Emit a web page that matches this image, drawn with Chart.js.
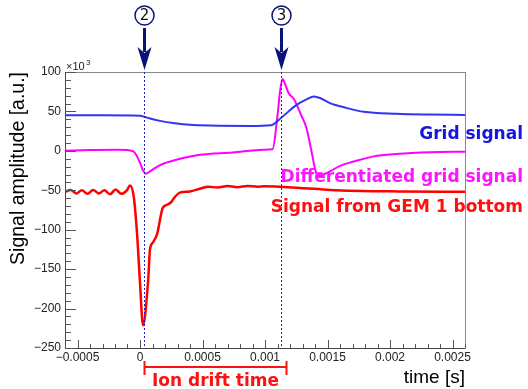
<!DOCTYPE html>
<html lang="en">
<head>
    <meta charset="UTF-8">
    <title>Grid signal and GEM signal</title>
    <script src="https://cdn.jsdelivr.net/npm/chart.js"></script>
    <style>
        body {
            margin: 0;
            background-color: white;
        }
        #wrap {
            width: 528px;
            height: 389px;
        }
    </style>
</head>
<body>
    <div id="wrap"><canvas id="signalChart" width="528" height="389"></canvas></div>
    <script>
        // values in units of 10^3, time in seconds
        const gridTime = [-0.0006, -0.0003, 0, 0.00003, 0.00008, 0.00016, 0.00028, 0.0004, 0.00056, 0.00088, 0.00105,
            0.00113, 0.00125, 0.00134, 0.00139, 0.00144, 0.00152, 0.00165, 0.00179, 0.00205, 0.00231, 0.0026];
        const gridSignal = [45, 45, 44.5, 43.5, 41, 38, 35, 33, 32, 31.5, 32.5,
            42, 58, 66, 69, 67, 60.5, 54.5, 49.5, 47, 46, 45.5];

        const diffTime = [-0.0006, -0.0004, -0.0002, -0.0001, -0.00005, -0.000024, 0, 0.000024, 0.000048, 0.00008,
            0.00016, 0.00032, 0.00048, 0.00074, 0.00099, 0.00106, 0.0011, 0.00112, 0.00114, 0.00116, 0.00119,
            0.00123, 0.00129, 0.00133, 0.00137, 0.00141, 0.00144, 0.00152, 0.0016, 0.00171, 0.00187, 0.00205,
            0.00232, 0.0026];
        const diffSignal = [0, 1, 1.5, 1, -1, -7, -15, -25, -29, -26,
            -18, -10, -5, -2, 1.5, 2, 45, 75, 91, 85, 73,
            66, 45, 30, 1, -28, -31, -26, -19, -13.5, -7, -4,
            -1.7, -1];

        const gemTime = [-0.0006, -0.000555, -0.00051, -0.000465, -0.00042, -0.000375, -0.00033, -0.000285,
            -0.00024, -0.000195, -0.00015, -0.000105, -0.00008, -0.00005, -0.000024, 0, 0.000024, 0.000064,
            0.00008, 0.000104, 0.000136, 0.000183, 0.000223, 0.000255, 0.000271, 0.000319, 0.000399, 0.000478,
            0.00055, 0.00062, 0.0007, 0.00078, 0.00086, 0.00094, 0.00099, 0.00128, 0.00152, 0.00207, 0.0026];
        const gemSignal = [-52, -49.5, -54, -50, -54.5, -49.5, -54, -50, -55, -49, -54.5, -50, -44, -58, -104,
            -167, -221, -167, -125, -116, -106, -72, -68, -64, -60, -53, -51.5, -48,
            -45.5, -46.5, -44.5, -46, -44.5, -45.5, -45, -47, -49.5, -51.5, -52];

        const markerTimes = [0.000032, 0.00113];
        const markerLabels = ["2", "3"];

        const yTicks = [-250, -200, -150, -100, -50, 0, 50, 100];
        const xTicks = [-0.0005, 0, 0.0005, 0.001, 0.0015, 0.002, 0.0025];
        const xTickLabels = ["-0.0005", "0", "0.0005", "0.001", "0.0015", "0.002", "0.0025"];

        function toPoints(xs, ys) {
            return xs.map((x, i) => ({ x: x, y: ys[i] }));
        }

        const decorations = {
            id: "decorations",
            afterDraw(chart) {
                const ctx = chart.ctx;
                const xs = chart.scales.x;
                const ys = chart.scales.y;
                const a = chart.chartArea;
                ctx.save();

                // frame
                ctx.strokeStyle = "#888";
                ctx.lineWidth = 1;
                ctx.strokeRect(a.left + 0.5, a.top + 0.5, a.right - a.left, a.bottom - a.top);
                ctx.strokeStyle = "#444";
                ctx.beginPath();
                ctx.moveTo(a.left + 0.5, a.top);
                ctx.lineTo(a.left + 0.5, a.bottom + 0.5);
                ctx.lineTo(a.right, a.bottom + 0.5);
                ctx.stroke();

                // y ticks
                ctx.strokeStyle = "#555";
                ctx.beginPath();
                for (let v = -250; v <= 100; v += 10) {
                    const py = Math.round(ys.getPixelForValue(v)) + 0.5;
                    const len = v % 50 === 0 ? 11 : 6;
                    ctx.moveTo(a.left, py);
                    ctx.lineTo(a.left + len, py);
                }
                // x ticks
                for (let k = -6; k <= 26; k++) {
                    const px = Math.round(xs.getPixelForValue(k * 0.0001)) + 0.5;
                    const len = k % 5 === 0 ? 8 : 4;
                    ctx.moveTo(px, a.bottom);
                    ctx.lineTo(px, a.bottom - len);
                }
                ctx.stroke();

                ctx.fillStyle = "#222";
                ctx.font = "12px 'Liberation Sans', Arial, sans-serif";
                ctx.textAlign = "right";
                ctx.textBaseline = "middle";
                yTicks.forEach(v => {
                    const label = v < 0 ? "\u2212" + (-v) : String(v);
                    ctx.fillText(label, a.left - 4, ys.getPixelForValue(v));
                });
                ctx.textAlign = "center";
                ctx.textBaseline = "top";
                xTicks.forEach((v, i) => {
                    ctx.fillText(xTickLabels[i].replace("-", "\u2212"), xs.getPixelForValue(v), a.bottom + 4);
                });

                // exponent
                ctx.font = "11px 'Liberation Sans', Arial, sans-serif";
                ctx.textAlign = "left";
                ctx.textBaseline = "alphabetic";
                ctx.fillText("\u00d710", a.left + 1, a.top - 2);
                ctx.font = "8px 'Liberation Sans', Arial, sans-serif";
                ctx.fillText("3", a.left + 21, a.top - 7);

                // axis titles
                ctx.font = "19px 'Liberation Sans', Arial, sans-serif";
                ctx.fillStyle = "#000";
                ctx.textAlign = "right";
                ctx.textBaseline = "alphabetic";
                ctx.fillText("time [s]", a.right, 383);
                ctx.save();
                ctx.translate(24, a.top);
                ctx.rotate(-Math.PI / 2);
                ctx.font = "19.5px 'Liberation Sans', Arial, sans-serif";
                ctx.fillText("Signal amplitude [a.u.]", 0, 0);
                ctx.restore();

                // markers: dotted lines, arrows, circled numbers
                markerTimes.forEach((t, i) => {
                    const px = Math.round(xs.getPixelForValue(t)) + 0.5;
                    ctx.strokeStyle = "#2020c0";
                    ctx.lineWidth = 1;
                    ctx.setLineDash([2, 2]);
                    ctx.beginPath();
                    ctx.moveTo(px, a.top);
                    ctx.lineTo(px, a.bottom);
                    ctx.stroke();
                    ctx.setLineDash([]);

                    ctx.strokeStyle = "#0a1478";
                    ctx.fillStyle = "#0a1478";
                    ctx.lineWidth = 3;
                    ctx.beginPath();
                    ctx.moveTo(px, 28);
                    ctx.lineTo(px, 52);
                    ctx.stroke();
                    ctx.beginPath();
                    ctx.moveTo(px - 7, 47);
                    ctx.lineTo(px, 70);
                    ctx.lineTo(px + 7, 47);
                    ctx.lineTo(px, 53);
                    ctx.closePath();
                    ctx.fill();

                    ctx.lineWidth = 1.5;
                    ctx.fillStyle = "#fff";
                    ctx.beginPath();
                    ctx.arc(px, 15.5, 9.5, 0, Math.PI * 2);
                    ctx.fill();
                    ctx.stroke();
                    ctx.fillStyle = "#111";
                    ctx.font = "15px 'DejaVu Sans', sans-serif";
                    ctx.textAlign = "center";
                    ctx.textBaseline = "middle";
                    ctx.fillText(markerLabels[i], px, 16);
                });

                // series labels
                ctx.font = "bold 17px 'DejaVu Sans', sans-serif";
                ctx.textAlign = "right";
                ctx.textBaseline = "middle";
                ctx.fillStyle = "#1414e6";
                ctx.fillText("Grid signal", 523, 135);
                ctx.fillStyle = "#ff14ff";
                ctx.fillText("Differentiated grid signal", 523, 178);
                ctx.fillStyle = "#ff1010";
                ctx.fillText("Signal from GEM 1 bottom", 523, 208);

                // ion drift time bracket
                const x0 = Math.round(xs.getPixelForValue(markerTimes[0])) + 0.5;
                const x1 = Math.round(xs.getPixelForValue(markerTimes[1])) + 5.5;
                ctx.strokeStyle = "#ff1010";
                ctx.lineWidth = 2;
                ctx.beginPath();
                ctx.moveTo(x0, 367);
                ctx.lineTo(x1, 367);
                ctx.moveTo(x0, 361);
                ctx.lineTo(x0, 375);
                ctx.moveTo(x1, 361);
                ctx.lineTo(x1, 375);
                ctx.stroke();
                ctx.fillStyle = "#ff1010";
                ctx.font = "bold 17px 'DejaVu Sans', sans-serif";
                ctx.textAlign = "center";
                ctx.fillText("Ion drift time", (x0 + x1) / 2, 382);

                ctx.restore();
            }
        };

        const ctx = document.getElementById("signalChart").getContext("2d");
        new Chart(ctx, {
            type: "scatter",
            data: {
                datasets: [
                    {
                        label: "Grid signal",
                        data: toPoints(gridTime, gridSignal),
                        borderColor: "#3434f0",
                        borderWidth: 2,
                        showLine: true,
                        pointRadius: 0,
                        cubicInterpolationMode: "monotone"
                    },
                    {
                        label: "Differentiated grid signal",
                        data: toPoints(diffTime, diffSignal),
                        borderColor: "#ff00ff",
                        borderWidth: 2,
                        showLine: true,
                        pointRadius: 0,
                        cubicInterpolationMode: "monotone"
                    },
                    {
                        label: "Signal from GEM 1 bottom",
                        data: toPoints(gemTime, gemSignal),
                        borderColor: "#ff0000",
                        borderWidth: 2.5,
                        showLine: true,
                        pointRadius: 0,
                        cubicInterpolationMode: "monotone"
                    }
                ]
            },
            options: {
                responsive: false,
                animation: false,
                layout: {
                    padding: { left: 65, right: 63, top: 72, bottom: 41 }
                },
                plugins: {
                    legend: { display: false },
                    tooltip: { enabled: false }
                },
                scales: {
                    x: { type: "linear", min: -0.0006, max: 0.0026, display: false },
                    y: { min: -250, max: 100, display: false }
                }
            },
            plugins: [decorations]
        });
    </script>
</body>
</html>
